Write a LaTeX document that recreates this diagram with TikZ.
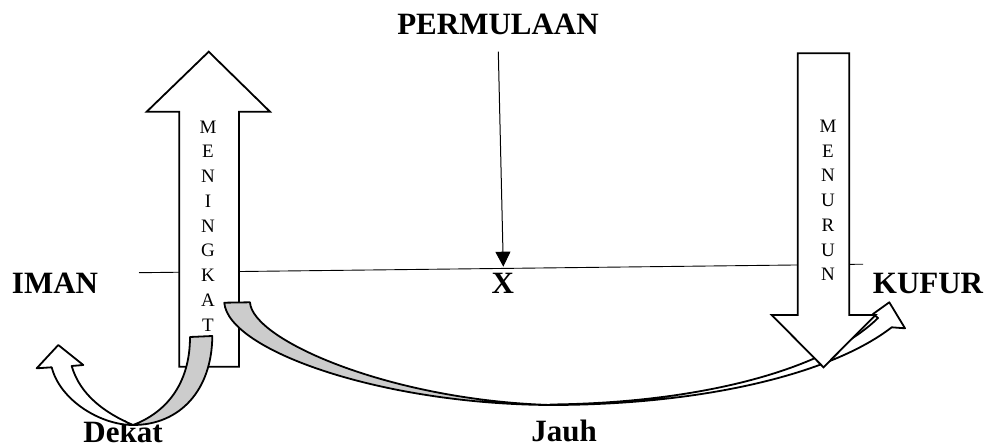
\documentclass[tikz,border=0pt]{standalone}
\usepackage{fontspec}
\setmainfont{Liberation Serif}
\usetikzlibrary{arrows.meta}
\begin{document}
\begin{tikzpicture}[x=1pt,y=-1pt,
  lbl/.style={font=\fontsize{31}{31}\selectfont\bfseries, inner sep=0pt, anchor=base},
  vtxt/.style={font=\fontsize{19}{24.75}\selectfont, inner sep=0pt, align=center},
  blockarrow/.style={draw=black, line width=1.8pt, line join=miter, fill=white},
  ribbon/.style={draw=black, line width=1.8pt, line join=round, fill=white},
  back/.style={draw=black, line width=1.8pt, line join=round, fill=black!20},
  axis/.style={line width=0.9pt},
  pointer/.style={line width=1pt, -{Triangle[length=15pt,width=15pt]}}]
\useasboundingbox (0,0) rectangle (987,446);

% horizontal axis
\coordinate (hl) at (139,272.7);
\coordinate (hr) at (863,264.2);
\draw[axis] (hl) -- (hr);

% start label and pointer
\node[lbl] (perm) at (498,35) {PERMULAAN};
\coordinate (ps) at (498.3,51.7);
\coordinate (pt) at (503.3,266.7);
\draw[pointer] (ps) -- (pt);

% bottom labels (under the ribbons)
\node[lbl] (dekat) at (123,442) {Dekat};
\node[lbl] (jauh) at (564,441) {Jauh};

% MENINGKAT up arrow
\draw[blockarrow] (179.3,366.7) -- (179.3,111.7) -- (146.7,111.7) -- (208.7,51.7)
  -- (270,111.7) -- (239,111.7) -- (239,366.7) -- cycle;
\node[vtxt] (meningkat) at (208,226) {M\\E\\N\\I\\N\\G\\K\\A\\T};

% Jauh ribbon arrow
\draw[back] (224.3,302.7) .. controls (228,350) and (380,404) .. (550,405)
  .. controls (390,400) and (252,340) .. (250,302.3) -- cycle;
\draw[ribbon] (550,405) .. controls (700,405) and (830,375) .. (891.7,327.3)
  -- (905,328.3) -- (889.3,302.3) -- (873,314) -- (878,318)
  .. controls (825,370) and (700,403) .. (550,404.5) -- cycle;

% Dekat ribbon arrow
\draw[ribbon] (51.7,367.3) .. controls (60,400) and (100,425) .. (133,425)
  .. controls (105,413) and (80,395) .. (71.7,366) -- (83.3,365) -- (58.3,345)
  -- (36.7,368.3) -- cycle;
\draw[back] (133,425) .. controls (180,425) and (212,390) .. (212.3,336)
  -- (190,337) .. controls (190,385) and (165,413) .. (133,425) -- cycle;

% MENURUN down arrow
\draw[blockarrow] (797.7,53.3) -- (849.3,53.3) -- (849.3,315) -- (875.5,315)
  -- (823.5,367.3) -- (771.7,315) -- (797.7,315) -- cycle;
\node[vtxt] (menurun) at (828,200.5) {M\\E\\N\\U\\R\\U\\N};

% side labels
\node[lbl] (iman) at (55,293.3) {IMAN};
\node[lbl] (x) at (502.7,293.3) {X};
\node[lbl] (kufur) at (928,293.3) {KUFUR};
\end{tikzpicture}
\end{document}
